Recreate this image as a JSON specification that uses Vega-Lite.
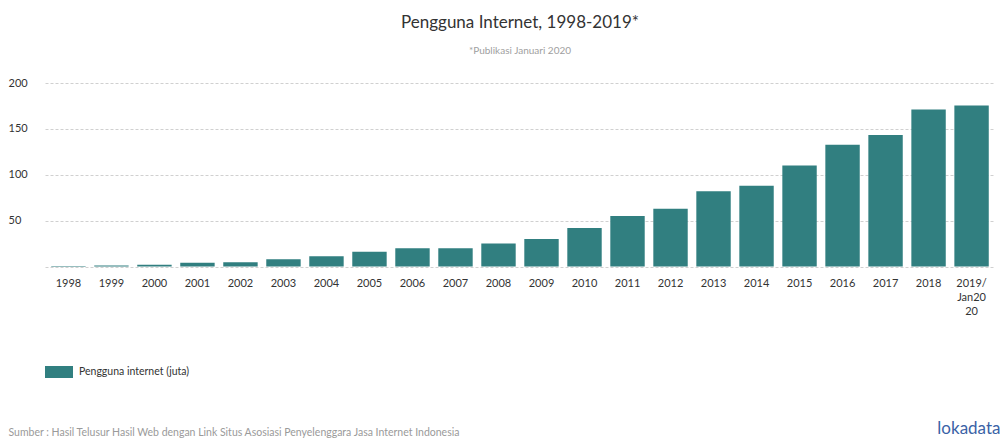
{
  "$schema": "https://vega.github.io/schema/vega-lite/v6.json",
  "width": 950,
  "height": 183.5,
  "autosize": {"type": "none"},
  "padding": {"left": 45, "top": 83, "right": 11, "bottom": 172.5},
  "background": "#ffffff",
  "config": {
    "font": "Lato",
    "view": {"stroke": null}
  },
  "title": {
    "text": "Pengguna Internet, 1998-2019*",
    "subtitle": "*Publikasi Januari 2020",
    "anchor": "middle",
    "frame": "group",
    "font": "Lato",
    "fontSize": 17,
    "fontWeight": "normal",
    "color": "#333333",
    "subtitleFont": "Lato",
    "subtitleFontSize": 10,
    "subtitleColor": "#a0a0a0",
    "subtitlePadding": 14,
    "offset": 20
  },
  "data": {
    "values": [
      {"tahun": "1998", "pengguna": 0.5},
      {"tahun": "1999", "pengguna": 1},
      {"tahun": "2000", "pengguna": 2},
      {"tahun": "2001", "pengguna": 4.2},
      {"tahun": "2002", "pengguna": 4.5},
      {"tahun": "2003", "pengguna": 8},
      {"tahun": "2004", "pengguna": 11.2},
      {"tahun": "2005", "pengguna": 16},
      {"tahun": "2006", "pengguna": 20},
      {"tahun": "2007", "pengguna": 20},
      {"tahun": "2008", "pengguna": 25},
      {"tahun": "2009", "pengguna": 30},
      {"tahun": "2010", "pengguna": 42},
      {"tahun": "2011", "pengguna": 55},
      {"tahun": "2012", "pengguna": 63},
      {"tahun": "2013", "pengguna": 82},
      {"tahun": "2014", "pengguna": 88},
      {"tahun": "2015", "pengguna": 110},
      {"tahun": "2016", "pengguna": 132.7},
      {"tahun": "2017", "pengguna": 143.26},
      {"tahun": "2018", "pengguna": 171.17},
      {"tahun": "2019/Jan2020", "pengguna": 175.4}
    ]
  },
  "mark": {"type": "bar"},
  "encoding": {
    "x": {
      "field": "tahun",
      "type": "ordinal",
      "sort": null,
      "scale": {"paddingInner": 0.2, "paddingOuter": 0.145},
      "axis": {
        "title": "Sumber : Hasil Telusur Hasil Web dengan Link Situs Asosiasi Penyelenggara Jasa Internet Indonesia",
        "titleFont": "Lato",
        "titleFontSize": 10.5,
        "titleFontWeight": "normal",
        "titleColor": "#9a9a9a",
        "titleAnchor": "start",
        "titleAlign": "left",
        "titleBaseline": "alphabetic",
        "titleX": -37,
        "titleY": 169,
        "labelAngle": 0,
        "labelFont": "Lato",
        "labelFontSize": 11,
        "labelColor": "#333333",
        "labelPadding": 17,
        "labelLineHeight": 14,
        "labelBaseline": "middle",
        "labelExpr": "datum.value == '2019/Jan2020' ? ['2019/', 'Jan20', '20'] : datum.value",
        "ticks": false,
        "domain": false,
        "grid": false
      }
    },
    "y": {
      "field": "pengguna",
      "type": "quantitative",
      "scale": {"domain": [0, 200], "nice": false},
      "axis": {
        "title": "lokadata",
        "titleFont": "Lato",
        "titleFontSize": 17,
        "titleFontWeight": "normal",
        "titleColor": "#3a62a6",
        "titleAngle": 0,
        "titleAlign": "right",
        "titleBaseline": "alphabetic",
        "titleX": 955,
        "titleY": 350,
        "values": [0, 50, 100, 150, 200],
        "labelExpr": "datum.value == 0 ? '' : datum.label",
        "labelFont": "Lato",
        "labelFontSize": 11,
        "labelColor": "#333333",
        "labelAlign": "left",
        "labelPadding": 37,
        "ticks": false,
        "tickSize": 0,
        "domain": false,
        "grid": true,
        "gridColor": "#d0d0d0",
        "gridDash": [3, 2],
        "gridWidth": 1
      }
    },
    "color": {
      "datum": "Pengguna internet (juta)",
      "type": "nominal",
      "scale": {"range": ["#317f80"]},
      "legend": {
        "title": null,
        "orient": "none",
        "legendX": 0,
        "legendY": 275,
        "symbolType": "M-1,-0.43H1V0.43H-1Z",
        "symbolSize": 784,
        "symbolStrokeWidth": 0,
        "symbolOpacity": 1,
        "labelFont": "Lato",
        "labelFontSize": 10.5,
        "labelColor": "#333333",
        "labelOffset": 6
      }
    }
  }
}
